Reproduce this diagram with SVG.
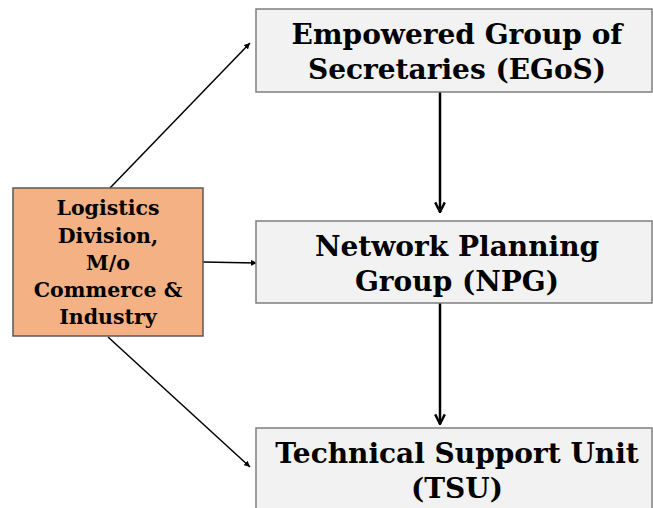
<svg xmlns="http://www.w3.org/2000/svg" width="653" height="508" viewBox="0 0 653 508">
<defs>
<marker id="ah" viewBox="0 0 10 10" refX="10" refY="5" markerWidth="6" markerHeight="6" orient="auto" markerUnits="userSpaceOnUse"><path d="M0,0 L10,5 L0,10 z" fill="#000"/></marker>
<marker id="ah2" viewBox="0 0 10 10" refX="9" refY="5" markerWidth="12" markerHeight="12" orient="auto" markerUnits="userSpaceOnUse"><path d="M1,1 L9,5 L1,9" fill="none" stroke="#000" stroke-width="2"/></marker>
<style>
.box{fill:#f2f2f2;stroke:#7f7f7f;stroke-width:1.5}
.org{fill:#f4b183;stroke:#595959;stroke-width:1.5}
.big{font-family:"DejaVu Serif","Liberation Serif",serif;font-weight:bold;font-size:28px;fill:#000;text-anchor:middle}
.sm{font-family:"DejaVu Serif","Liberation Serif",serif;font-weight:bold;font-size:20.5px;fill:#000;text-anchor:middle}
.c{stroke:#000;stroke-width:1.5;fill:none}
.v{stroke:#000;stroke-width:2.5;fill:none}
</style>
</defs>
<rect width="653" height="508" fill="#fff"/>
<g id="connectors">
<line class="c" x1="110" y1="188" x2="250" y2="43" marker-end="url(#ah)"/>
<line class="c" x1="203" y1="262" x2="257" y2="263" marker-end="url(#ah)"/>
<line class="c" x1="108" y1="337" x2="250" y2="467" marker-end="url(#ah)"/>
<line class="v" x1="440" y1="92" x2="440" y2="212" marker-end="url(#ah2)"/>
<line class="v" x1="440" y1="303" x2="440" y2="424" marker-end="url(#ah2)"/>
</g>
<g id="logistics">
<rect class="org" x="13" y="188" width="190" height="148"/>
<text class="sm" x="108" y="215">Logistics</text>
<text class="sm" x="108" y="243">Division,</text>
<text class="sm" x="108" y="270">M/o</text>
<text class="sm" x="108" y="297">Commerce &amp;</text>
<text class="sm" x="108" y="324">Industry</text>
</g>
<g id="egos">
<rect class="box" x="256" y="9" width="396" height="83"/>
<text class="big" x="457" y="44">Empowered Group of</text>
<text class="big" x="457" y="79">Secretaries (EGoS)</text>
</g>
<g id="npg">
<rect class="box" x="256" y="221" width="396" height="82"/>
<text class="big" x="457" y="256">Network Planning</text>
<text class="big" x="457" y="291">Group (NPG)</text>
</g>
<g id="tsu">
<rect class="box" x="256" y="428" width="396" height="90"/>
<text class="big" x="457" y="463">Technical Support Unit</text>
<text class="big" x="457" y="498">(TSU)</text>
</g>
</svg>
